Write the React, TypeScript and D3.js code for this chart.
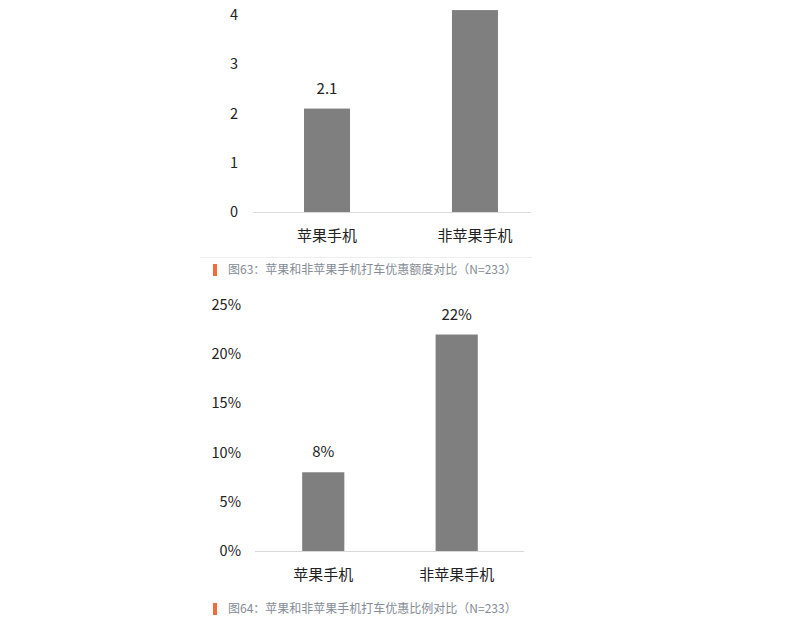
import * as d3 from "d3";

const categories = ["苹果手机", "非苹果手机"];
const amountValues = [2.1, 4.1];
const amountTicks = [0, 1, 2, 3, 4];
const ratioValues = [0.08, 0.22];
const ratioTicks = [0, 0.05, 0.1, 0.15, 0.2, 0.25];
const captions = [
  "图63：苹果和非苹果手机打车优惠额度对比（N=233）",
  "图64：苹果和非苹果手机打车优惠比例对比（N=233）",
];

const FONT = "'Noto Sans CJK SC', 'Microsoft YaHei', sans-serif";
const BAR = "#7f7f7f";

type PanelProps = {
  values: number[];
  ticks: number[];
  yMax: number;
  baseY: number;
  topY: number;
  xRange: [number, number];
  inner: number;
  outer: number;
  align: number;
  tickX: number;
  fmt: (v: number) => string;
};

function Panel(p: PanelProps) {
  const y = d3.scaleLinear().domain([0, p.yMax]).range([p.baseY, p.topY]);
  const x = d3
    .scaleBand<string>()
    .domain(categories)
    .range(p.xRange)
    .paddingInner(p.inner)
    .paddingOuter(p.outer)
    .align(p.align);

  return (
    <g fontFamily={FONT}>
      {p.ticks.map((t) => (
        <text key={t} x={p.tickX} y={y(t)} dy="0.35em" textAnchor="end" fontSize={14.5} fill="#222">
          {p.fmt(t)}
        </text>
      ))}
      {p.values.map((v, i) => {
        const c = categories[i];
        const x0 = x(c) ?? 0;
        return (
          <g key={c}>
            <rect x={x0} y={y(v)} width={x.bandwidth()} height={y(0) - y(v)} fill={BAR} />
            <text x={x0 + x.bandwidth() / 2} y={y(v) - 15} textAnchor="middle" fontSize={15} fill="#222">
              {p.fmt(v)}
            </text>
            <text x={x0 + x.bandwidth() / 2} y={p.baseY + 29} textAnchor="middle" fontSize={15} fill="#222">
              {c}
            </text>
          </g>
        );
      })}
      <line x1={p.xRange[0]} x2={p.xRange[1]} y1={p.baseY + 0.5} y2={p.baseY + 0.5} stroke="#d9d9d9" />
    </g>
  );
}

function Caption({ y, text }: { y: number; text: string }) {
  return (
    <g fontFamily={FONT}>
      <rect x={213} y={y - 6} width={4} height={12} fill="#f26b3a" />
      <text x={228} y={y} dy="0.35em" fontSize={12} fill="#858b96">
        {text}
      </text>
    </g>
  );
}

export default function App() {
  return (
    <svg
      width={798}
      height={617}
      style={{ position: "absolute", left: 0, top: 0, background: "#fff" }}
    >
      <Panel
        values={amountValues}
        ticks={amountTicks}
        yMax={4}
        baseY={212}
        topY={15}
        xRange={[253, 531]}
        inner={0.689}
        outer={0.284}
        align={0.607}
        tickX={238}
        fmt={(v) => String(v)}
      />
      <line x1={200} x2={532} y1={257.5} y2={257.5} stroke="#eeeeee" />
      <Caption y={270} text={captions[0]} />
      <Panel
        values={ratioValues}
        ticks={ratioTicks}
        yMax={0.25}
        baseY={551}
        topY={305}
        xRange={[255, 524]}
        inner={0.684}
        outer={0.35}
        align={0.505}
        tickX={241}
        fmt={d3.format(".0%")}
      />
      <Caption y={609} text={captions[1]} />
    </svg>
  );
}
